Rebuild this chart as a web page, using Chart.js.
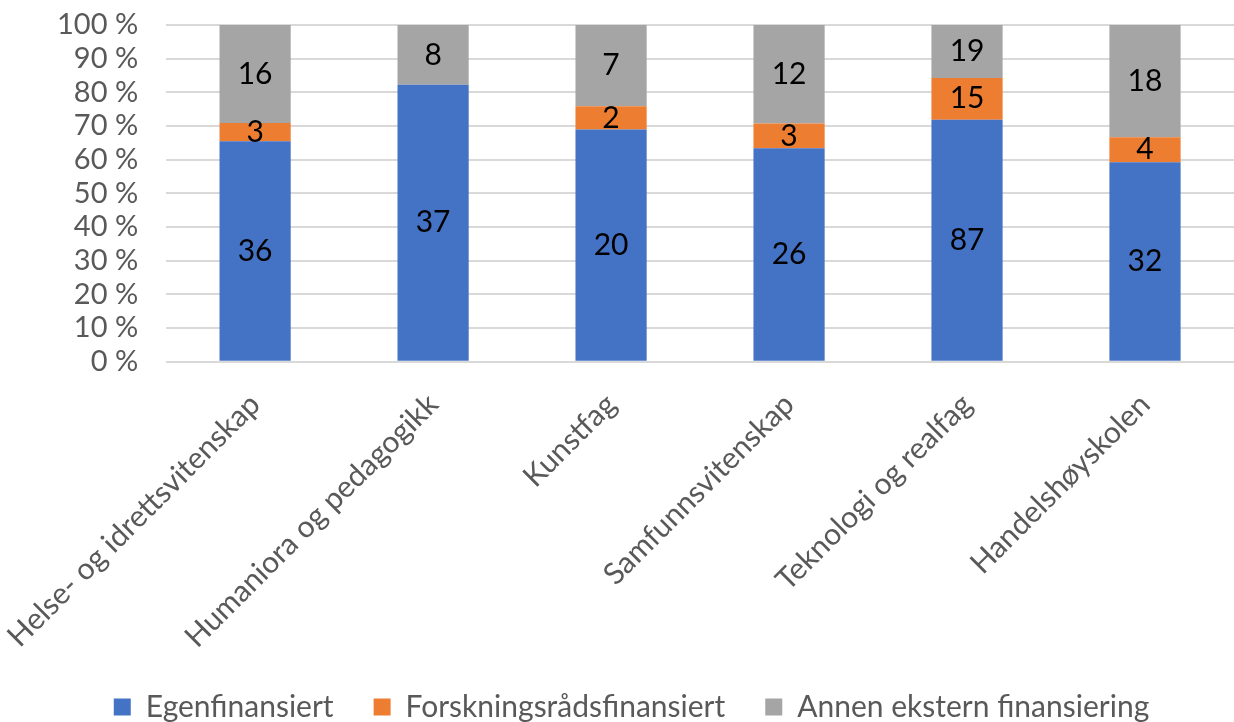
<!DOCTYPE html>
<html>
<head>
<meta charset="utf-8">
<script src="https://cdn.jsdelivr.net/npm/chart.js@4"></script>
<style>
html,body{margin:0;padding:0;background:#fff;}
#wrap{width:1234px;height:722px;}
</style>
</head>
<body>
<div id="wrap"><canvas id="c" width="1234" height="722"></canvas></div>
<script>
const categories = ["Helse- og idrettsvitenskap","Humaniora og pedagogikk","Kunstfag","Samfunnsvitenskap","Teknologi og realfag","Handelshøyskolen"];
const egenfinansiert = [36, 37, 20, 26, 87, 32];
const forskningsraad = [3, 0, 2, 3, 15, 4];
const annenEkstern = [16, 8, 7, 12, 19, 18];
const seriesNames = ["Egenfinansiert","Forskningsrådsfinansiert","Annen ekstern finansiering"];
const yTicks = [0,10,20,30,40,50,60,70,80,90,100];

const totals = categories.map((_, i) => egenfinansiert[i] + forskningsraad[i] + annenEkstern[i]);
const pct = arr => arr.map((v, i) => v / totals[i] * 100);
const counts = [egenfinansiert, forskningsraad, annenEkstern];

const FONT = "Lato";

const labelPlugin = {
  id: 'valLabels',
  afterDatasetsDraw(chart) {
    const ctx = chart.ctx;
    ctx.save();
    ctx.font = "30px " + FONT;
    ctx.fillStyle = "#000";
    ctx.textAlign = "center";
    ctx.textBaseline = "middle";
    chart.data.datasets.forEach((ds, di) => {
      const meta = chart.getDatasetMeta(di);
      meta.data.forEach((el, i) => {
        const v = counts[di][i];
        if (!v) return;
        ctx.fillText(String(v), el.x, (el.y + el.base) / 2);
      });
    });
    ctx.restore();
  }
};

new Chart(document.getElementById('c'), {
  type: 'bar',
  data: {
    labels: categories,
    datasets: [
      {label: seriesNames[0], data: pct(egenfinansiert), backgroundColor: '#4472C4'},
      {label: seriesNames[1], data: pct(forskningsraad), backgroundColor: '#ED7D31'},
      {label: seriesNames[2], data: pct(annenEkstern), backgroundColor: '#A5A5A5'}
    ]
  },
  options: {
    responsive: false,
    animation: false,
    devicePixelRatio: 1,
    barPercentage: 0.4,
    categoryPercentage: 1,
    layout: {padding: {left: 29, right: 0, top: 25, bottom: -10}},
    plugins: {
      legend: {
        position: 'bottom',
        labels: {
          font: {family: FONT, size: 30},
          color: '#595959',
          boxWidth: 17, boxHeight: 17,
          padding: 40
        }
      },
      tooltip: {enabled: false}
    },
    scales: {
      x: {
        stacked: true,
        grid: {display: false},
        border: {display: false},
        afterFit: s => { s.height -= 20; s.paddingLeft = 0; s.paddingRight = 0; },
        ticks: {
          font: {family: FONT, size: 30},
          color: '#595959',
          maxRotation: 45, minRotation: 45,
          autoSkip: false,
          padding: 17
        }
      },
      y: {
        stacked: true,
        min: 0, max: 100,
        afterBuildTicks: axis => { axis.ticks = yTicks.map(v => ({value: v})); },
        afterFit: s => { s.paddingTop = 0; s.paddingBottom = 0; },
        grid: {color: '#d9d9d9', lineWidth: 2, drawTicks: false},
        border: {display: false},
        ticks: {
          font: {family: FONT, size: 29},
          color: '#595959',
          padding: 28,
          autoSkip: false,
          callback: v => v + ' %'
        }
      }
    }
  },
  plugins: [labelPlugin]
});
</script>
</body>
</html>
